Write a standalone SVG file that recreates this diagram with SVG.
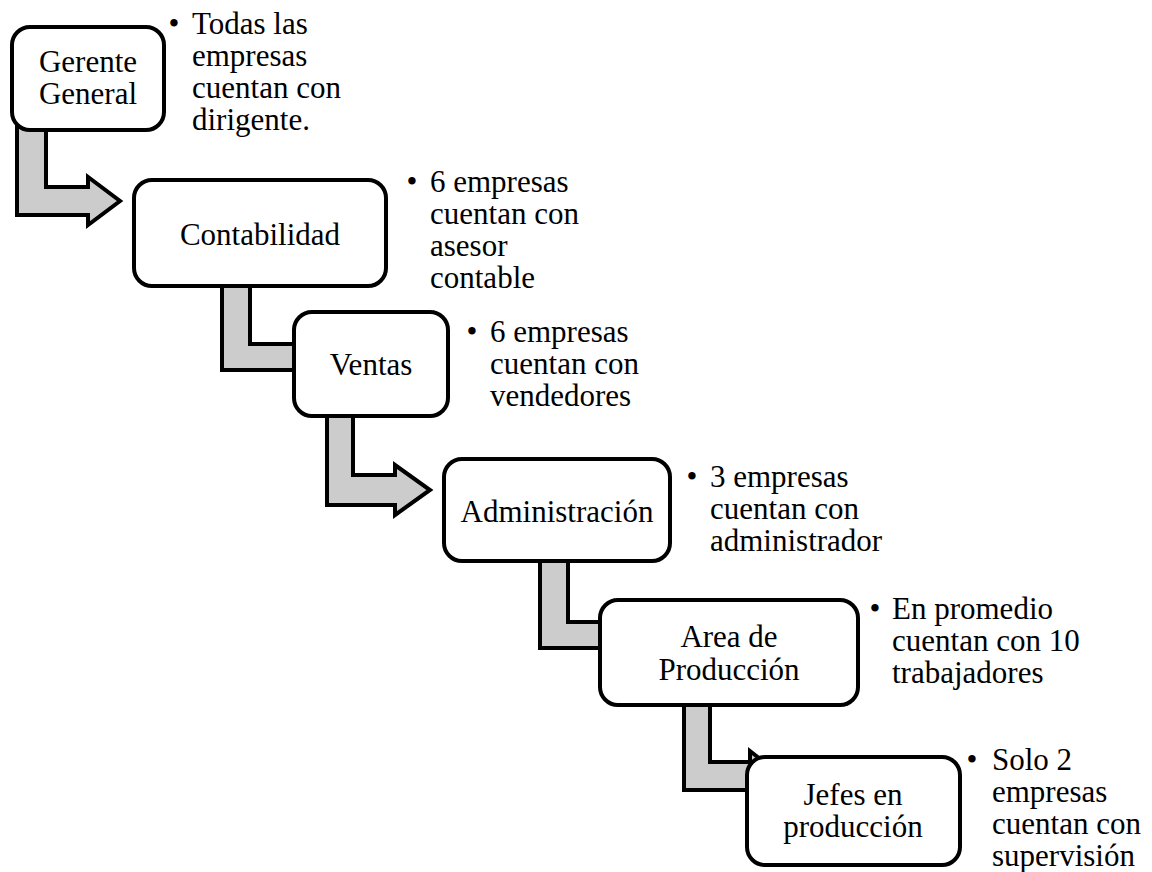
<svg xmlns="http://www.w3.org/2000/svg" width="1152" height="872" viewBox="0 0 1152 872">
  <defs>
    <style>
      .box { fill: #ffffff; stroke: #000000; stroke-width: 4; }
      .arrow { fill: #cccccc; stroke: #000000; stroke-width: 4; stroke-linejoin: miter; }
      .lbl { font-family: "Liberation Serif", "Times New Roman", serif; font-size: 31px; fill: #000000; }
      .mid { text-anchor: middle; }
    </style>
  </defs>
  <rect width="1152" height="872" fill="#ffffff"/>

  <!-- bent block arrows between levels -->
  <g id="connectors">
    <path class="arrow" d="M17,120 L46,120 L46,187 L88,187 L88,177 L120,201 L88,225 L88,215 L17,215 Z"/>
    <path class="arrow" d="M222,280 L250,280 L250,344 L302,344 L302,333 L334,357 L302,381 L302,370 L222,370 Z"/>
    <path class="arrow" d="M327,410 L353,410 L353,475 L395,475 L395,465 L430,490 L395,515 L395,505 L327,505 Z"/>
    <path class="arrow" d="M540,555 L568,555 L568,622 L610,622 L610,611 L642,635 L610,659 L610,648 L540,648 Z"/>
    <path class="arrow" d="M684,700 L710,700 L710,762 L750,762 L750,751 L782,776 L750,801 L750,790 L684,790 Z"/>
  </g>

  <g id="gerente">
    <rect class="box" x="12" y="27" width="152" height="103" rx="18"/>
    <text class="lbl mid" x="88" y="72">Gerente</text>
    <text class="lbl mid" x="88" y="104">General</text>
  </g>
  <g id="gerente-note">
    <text class="lbl mid" x="174" y="34">•</text>
    <text class="lbl" x="192" y="34">Todas las</text>
    <text class="lbl" x="192" y="66">empresas</text>
    <text class="lbl" x="192" y="98">cuentan con</text>
    <text class="lbl" x="192" y="130">dirigente.</text>
  </g>

  <g id="contabilidad">
    <rect class="box" x="134" y="180" width="252" height="106" rx="18"/>
    <text class="lbl mid" x="260" y="245">Contabilidad</text>
  </g>
  <g id="contabilidad-note">
    <text class="lbl mid" x="412" y="192">•</text>
    <text class="lbl" x="430" y="192">6 empresas</text>
    <text class="lbl" x="430" y="224">cuentan con</text>
    <text class="lbl" x="430" y="256">asesor</text>
    <text class="lbl" x="430" y="288">contable</text>
  </g>

  <g id="ventas">
    <rect class="box" x="294" y="312" width="154" height="104" rx="18"/>
    <text class="lbl mid" x="371" y="375">Ventas</text>
  </g>
  <g id="ventas-note">
    <text class="lbl mid" x="472" y="342">•</text>
    <text class="lbl" x="490" y="342">6 empresas</text>
    <text class="lbl" x="490" y="374">cuentan con</text>
    <text class="lbl" x="490" y="406">vendedores</text>
  </g>

  <g id="administracion">
    <rect class="box" x="444" y="459" width="226" height="102" rx="18"/>
    <text class="lbl mid" x="557" y="522">Administración</text>
  </g>
  <g id="administracion-note">
    <text class="lbl mid" x="692" y="487">•</text>
    <text class="lbl" x="710" y="487">3 empresas</text>
    <text class="lbl" x="710" y="519">cuentan con</text>
    <text class="lbl" x="710" y="551">administrador</text>
  </g>

  <g id="produccion">
    <rect class="box" x="600" y="600" width="258" height="105" rx="18"/>
    <text class="lbl mid" x="729" y="647">Area de</text>
    <text class="lbl mid" x="729" y="680">Producción</text>
  </g>
  <g id="produccion-note">
    <text class="lbl mid" x="875" y="619">•</text>
    <text class="lbl" x="892" y="619">En promedio</text>
    <text class="lbl" x="892" y="651">cuentan con 10</text>
    <text class="lbl" x="892" y="683">trabajadores</text>
  </g>

  <g id="jefes">
    <rect class="box" x="747" y="757" width="213" height="108" rx="18"/>
    <text class="lbl mid" x="853" y="805">Jefes en</text>
    <text class="lbl mid" x="853" y="837">producción</text>
  </g>
  <g id="jefes-note">
    <text class="lbl mid" x="972" y="770">•</text>
    <text class="lbl" x="992" y="770">Solo 2</text>
    <text class="lbl" x="992" y="802">empresas</text>
    <text class="lbl" x="992" y="834">cuentan con</text>
    <text class="lbl" x="992" y="866">supervisión</text>
  </g>
</svg>
